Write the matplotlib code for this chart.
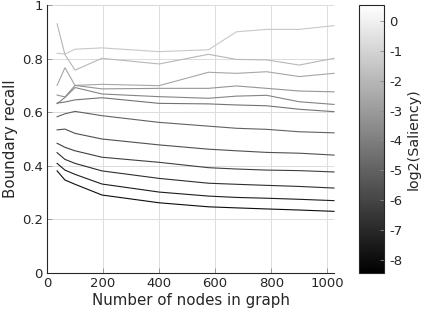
import numpy as np
import matplotlib
matplotlib.use("Agg")
import matplotlib.pyplot as plt
from matplotlib.colors import Normalize
from matplotlib.cm import ScalarMappable

nodes = [36, 64, 100, 196, 400, 576, 676, 784, 900, 1024]

nan = np.nan
recall = [
    [1.0, 1.0, 1.0, 1.0, 1.0, 1.0, nan, nan, nan, nan],
    [0.82, 0.817, 0.835, 0.84, 0.826, 0.833, 0.90, 0.909, 0.909, 0.923],
    [0.93, 0.815, 0.757, 0.801, 0.78, 0.816, 0.797, 0.795, 0.776, 0.801],
    [0.70, 0.766, 0.70, 0.704, 0.699, 0.749, 0.745, 0.751, 0.733, 0.745],
    [0.664, 0.657, 0.70, 0.687, 0.689, 0.689, 0.698, 0.689, 0.679, 0.676],
    [0.632, 0.655, 0.692, 0.668, 0.658, 0.652, 0.660, 0.663, 0.639, 0.629],
    [0.634, 0.638, 0.646, 0.654, 0.633, 0.631, 0.627, 0.624, 0.611, 0.602],
    [0.583, 0.594, 0.603, 0.587, 0.562, 0.548, 0.54, 0.536, 0.527, 0.523],
    [0.534, 0.537, 0.521, 0.50, 0.478, 0.462, 0.456, 0.45, 0.447, 0.44],
    [0.484, 0.469, 0.456, 0.432, 0.413, 0.393, 0.388, 0.384, 0.382, 0.377],
    [0.449, 0.424, 0.409, 0.381, 0.353, 0.335, 0.331, 0.327, 0.323, 0.317],
    [0.409, 0.384, 0.368, 0.332, 0.302, 0.287, 0.282, 0.279, 0.275, 0.27],
    [0.381, 0.347, 0.331, 0.291, 0.262, 0.247, 0.243, 0.239, 0.235, 0.23],
]
log2_saliency = [-0.8, -1.4, -2.0, -2.6, -3.2, -3.8, -4.4, -5.0, -5.6, -6.2, -6.8, -7.4, -8.0]

cbar_min, cbar_max = -8.43, 0.53
cbar_ticks = [0, -1, -2, -3, -4, -5, -6, -7, -8]
xticks = [0, 200, 400, 600, 800, 1000]
yticks = [0, 0.2, 0.4, 0.6, 0.8, 1.0]

plt.rcParams['font.family'] = ['DejaVu Sans']
plt.rcParams['axes.unicode_minus'] = False
txt = '#262626'

fig = plt.figure(figsize=(4.21, 3.16), dpi=100)
ax = fig.add_axes([47/421, 1-273/316, (334-47)/421, (273-5)/316])
cax = fig.add_axes([359/421, 1-273/316, (384-359)/421, (273-5)/316])

norm = Normalize(vmin=cbar_min, vmax=cbar_max)
cmap = plt.get_cmap('gray')

for vals, s in zip(recall, log2_saliency):
    ax.plot(nodes, vals, color=cmap(norm(s)), lw=0.8, clip_on=False)

ax.set_xlim(0, 1024)
ax.set_ylim(0, 1)
ax.set_xticks(xticks)
ax.set_yticks(yticks)
ax.set_yticklabels(['0', '0.2', '0.4', '0.6', '0.8', '1'])
ax.grid(True, color='#dcdcdc', lw=0.7)
ax.set_axisbelow(True)
for sp in ['top', 'right']:
    ax.spines[sp].set_visible(False)
for sp in ['left', 'bottom']:
    ax.spines[sp].set_color('#262626')
    ax.spines[sp].set_linewidth(0.8)
ax.tick_params(direction='in', length=3.5, width=0.6, colors='#8c8c8c',
               labelcolor=txt, labelsize=9.5, pad=3)
ax.set_xlabel('Number of nodes in graph', fontsize=10.8, color=txt, labelpad=2)
ax.set_ylabel('Boundary recall', fontsize=10.8, color=txt, labelpad=3)

sm = ScalarMappable(norm=norm, cmap=cmap)
cb = fig.colorbar(sm, cax=cax, ticks=cbar_ticks)
cb.outline.set_edgecolor('#262626')
cb.outline.set_linewidth(0.8)
cax.tick_params(direction='in', length=3, width=0.6, colors='#8c8c8c',
                labelcolor=txt, labelsize=9.5, pad=4)
cb.set_label('log2(Saliency)', fontsize=10.3, color=txt, labelpad=3)

fig.savefig('out.png', dpi=100)
